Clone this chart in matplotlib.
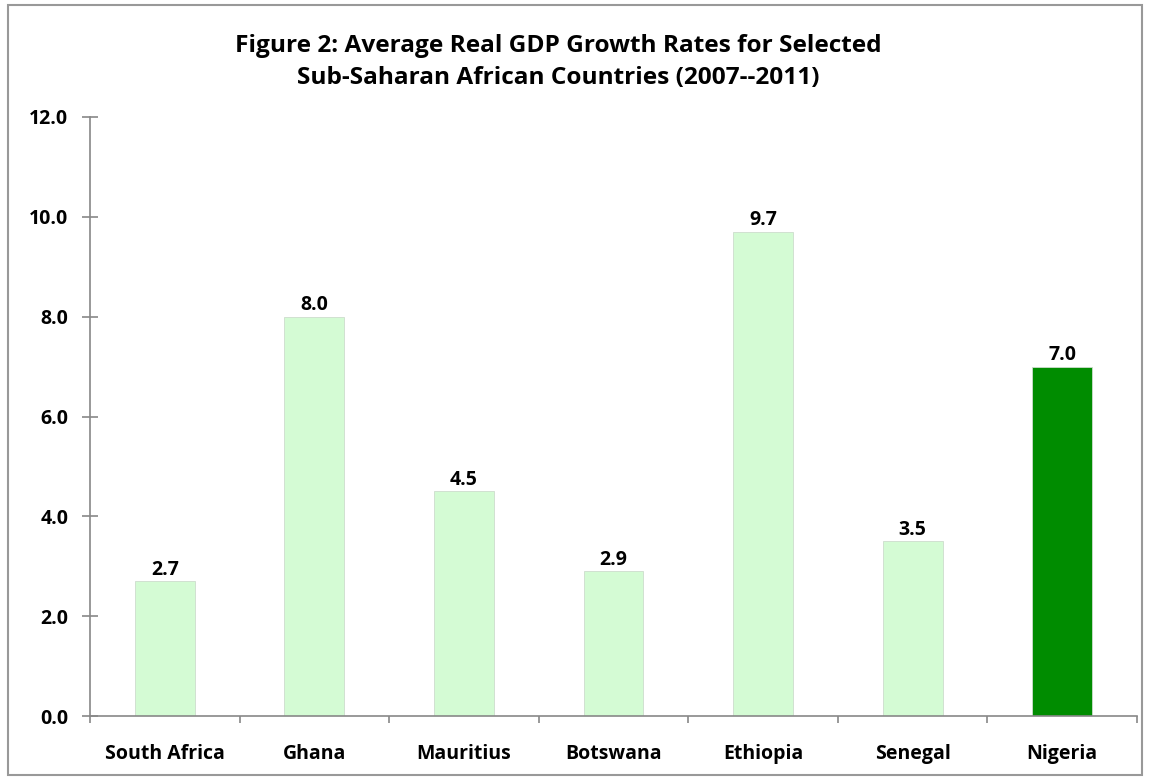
import matplotlib
matplotlib.use("Agg")
import matplotlib.pyplot as plt
from matplotlib.patches import Rectangle

countries = ["South Africa", "Ghana", "Mauritius", "Botswana", "Ethiopia", "Senegal", "Nigeria"]
growth = [2.7, 8.0, 4.5, 2.9, 9.7, 3.5, 7.0]
yticks = [0, 2, 4, 6, 8, 10, 12]
title = "Figure 2: Average Real GDP Growth Rates for Selected\nSub-Saharan African Countries (2007--2011)"

light = "#d4fbd4"
dark = "#008c00"
colors = [light] * 6 + [dark]

plt.rcParams['font.family'] = ['Open Sans', 'DejaVu Sans']
plt.rcParams['font.weight'] = 'bold'

fig = plt.figure(figsize=(11.5, 7.8), dpi=100)
ax = fig.add_axes([90/1150, 1 - 716/780, (1137-90)/1150, (716-117)/780])

x = list(range(len(countries)))
ax.bar(x, growth, width=0.4, color=colors, edgecolor="#cddccd", linewidth=0.6, zorder=2)
for xi, v in zip(x, growth):
    ax.text(xi, v + 0.03, f"{v:.1f}", ha="center", va="bottom", fontsize=14, fontweight="bold")

ax.set_xlim(-0.5, len(countries) - 0.5)
ax.set_ylim(0, 12)
ax.set_yticks(yticks)
ax.set_yticklabels([f"{t:.1f}" for t in yticks], fontsize=14, fontweight="bold")
ax.set_xticks([i - 0.5 for i in range(len(countries) + 1)])
ax.set_xticklabels([])
ax.set_xticks(x, minor=True)
ax.set_xticklabels(countries, minor=True, fontsize=14, fontweight="bold")
ax.tick_params(axis="x", which="minor", length=0, pad=20)
ax.tick_params(axis="x", which="major", direction="out", length=5, color="#888888", width=1.2)
ax.tick_params(axis="y", direction="inout", length=11, color="#888888", width=1.2, pad=10)

for s in ["top", "right"]:
    ax.spines[s].set_visible(False)
for s in ["left", "bottom"]:
    ax.spines[s].set_color("#888888")
    ax.spines[s].set_linewidth(1.2)

fig.text(558/1150, 1 - 62/780, title, ha="center", va="center", fontsize=17.6, fontweight="bold", linespacing=1.4)

fig.patches.append(Rectangle((8/1150, 5/780), (1142-8)/1150, (775-5)/780, transform=fig.transFigure,
                             fill=False, edgecolor="#999999", linewidth=1.5))

fig.savefig("out.png", dpi=100)
